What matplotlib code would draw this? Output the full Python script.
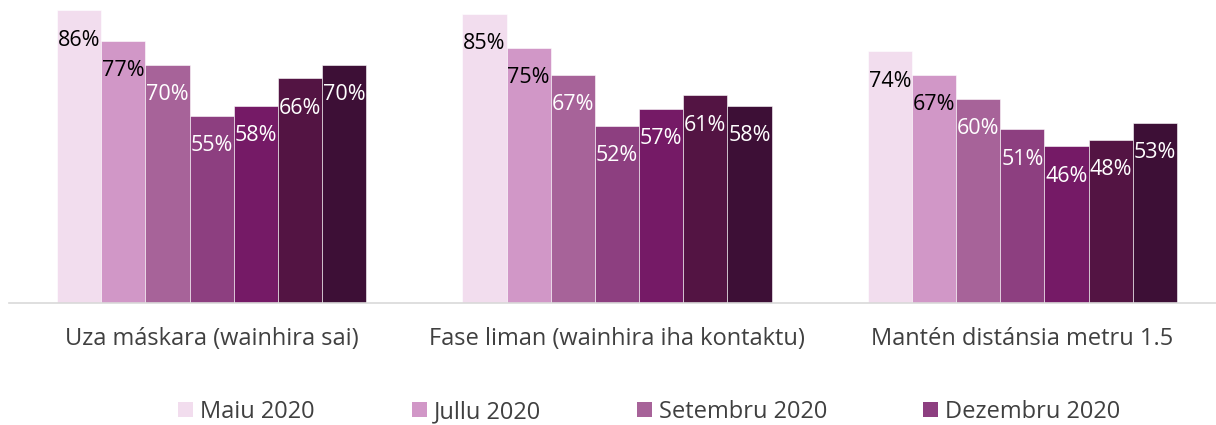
import numpy as np
import matplotlib.pyplot as plt
from matplotlib.patches import Patch

categories = ['Uza máskara (wainhira sai)', 'Fase liman (wainhira iha kontaktu)', 'Mantén distánsia metru 1.5']
series_names = ['Maiu 2020', 'Jullu 2020', 'Setembru 2020', 'Dezembru 2020']
values = [
    [0.86, 0.85, 0.74],
    [0.77, 0.75, 0.67],
    [0.70, 0.67, 0.60],
    [0.55, 0.52, 0.51],
    [0.58, 0.57, 0.46],
    [0.66, 0.61, 0.48],
    [0.70, 0.58, 0.53],
]
colors = ['#F2DDEE', '#D197C7', '#A76399', '#8D3F80', '#751A66', '#531443', '#3D0F36']
label_colors = ['black', 'black', 'white', 'white', 'white', 'white', 'white']

plt.rcParams['font.family'] = ['Open Sans', 'DejaVu Sans']

fig = plt.figure(figsize=(12.16, 4.25), dpi=100)
ax = fig.add_axes([9 / 1216, 1 - 303 / 425, 1207 / 1216, 303 / 425])

x = np.arange(len(categories))
n = len(values)
w = 0.763 / n
for i, vals in enumerate(values):
    pos = x - 0.763 / 2 + w * (i + 0.5)
    bars = ax.bar(pos, vals, width=w, color=colors[i], edgecolor='white', linewidth=0.4)
    for b, v in zip(bars, vals):
        ax.annotate(f'{round(v * 100)}%', (b.get_x() + b.get_width() / 2, v),
                    xytext=(0, -30), textcoords='offset pixels',
                    ha='center', va='center', fontsize=15.5, color=label_colors[i])

ax.set_ylim(0, 0.89)
ax.set_xlim(-0.5, 2.5 - 9 / 405)
ax.set_yticks([])
ax.set_xticks(x)
ax.set_xticklabels(categories, fontsize=17, color='#404040')
ax.tick_params(axis='x', length=0, pad=17)
for s in ['top', 'right', 'left']:
    ax.spines[s].set_visible(False)
ax.spines['bottom'].set_color('#D9D9D9')
ax.spines['bottom'].set_linewidth(1.2)

# legend entries placed one by one, Excel-style slots
leg_x = [178, 412, 637, 923]
for i in range(4):
    fig.legend(handles=[Patch(facecolor=colors[i], label=series_names[i])], loc='center left',
               bbox_to_anchor=(leg_x[i] / 1216, 1 - 412 / 425), frameon=False, fontsize=17,
               handlelength=0.62, handleheight=0.62, handletextpad=0.3, borderpad=0,
               borderaxespad=0, labelcolor='#404040')

fig.savefig('out.png', dpi=100)
